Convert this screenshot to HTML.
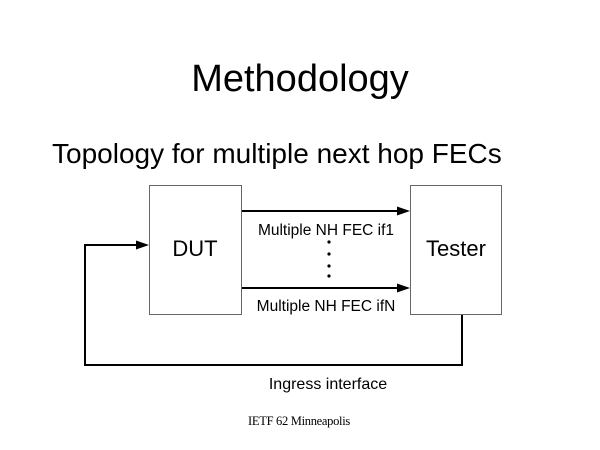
<!DOCTYPE html>
<html><head><meta charset="utf-8"><style>
html,body{margin:0;padding:0;background:#fff;}
svg{display:block;}
</style></head><body>
<svg width="600" height="450" viewBox="0 0 600 450" xmlns="http://www.w3.org/2000/svg">
<text x="300" y="91" text-anchor="middle" font-family="Liberation Sans, sans-serif" font-size="38" fill="#000">Methodology</text>
<text x="52" y="163" font-family="Liberation Sans, sans-serif" font-size="28" fill="#000">Topology for multiple next hop FECs</text>
<rect x="149.5" y="185.5" width="92" height="129" fill="#fff" stroke="#666" stroke-width="1"/>
<rect x="410.5" y="185.5" width="91" height="129" fill="#fff" stroke="#666" stroke-width="1"/>
<text x="195" y="256" text-anchor="middle" font-family="Liberation Sans, sans-serif" font-size="22">DUT</text>
<text x="456" y="256" text-anchor="middle" font-family="Liberation Sans, sans-serif" font-size="22">Tester</text>
<g stroke="#000" stroke-width="2" fill="none">
<line x1="242" y1="211" x2="398" y2="211"/>
<line x1="242" y1="288" x2="398" y2="288"/>
<polyline points="462,315 462,365 85,365 85,245 136,245"/>
</g>
<g fill="#000">
<polygon points="410,211 397,206.5 397,215.5"/>
<polygon points="410,288 397,283.5 397,292.5"/>
<polygon points="149,245 136,240.5 136,249.5"/>
<circle cx="329" cy="242" r="1.6"/><circle cx="329" cy="254" r="1.6"/><circle cx="329" cy="266" r="1.6"/><circle cx="329" cy="276" r="1.6"/>
</g>
<text x="326" y="235" text-anchor="middle" font-family="Liberation Sans, sans-serif" font-size="15.5">Multiple NH FEC if1</text>
<text x="326" y="311" text-anchor="middle" font-family="Liberation Sans, sans-serif" font-size="15.5">Multiple NH FEC ifN</text>
<text x="328" y="389" text-anchor="middle" font-family="Liberation Sans, sans-serif" font-size="16">Ingress interface</text>
<text x="299" y="425" text-anchor="middle" font-family="Liberation Serif, serif" font-size="12.5" letter-spacing="-0.3">IETF 62 Minneapolis</text>
</svg>
</body></html>
